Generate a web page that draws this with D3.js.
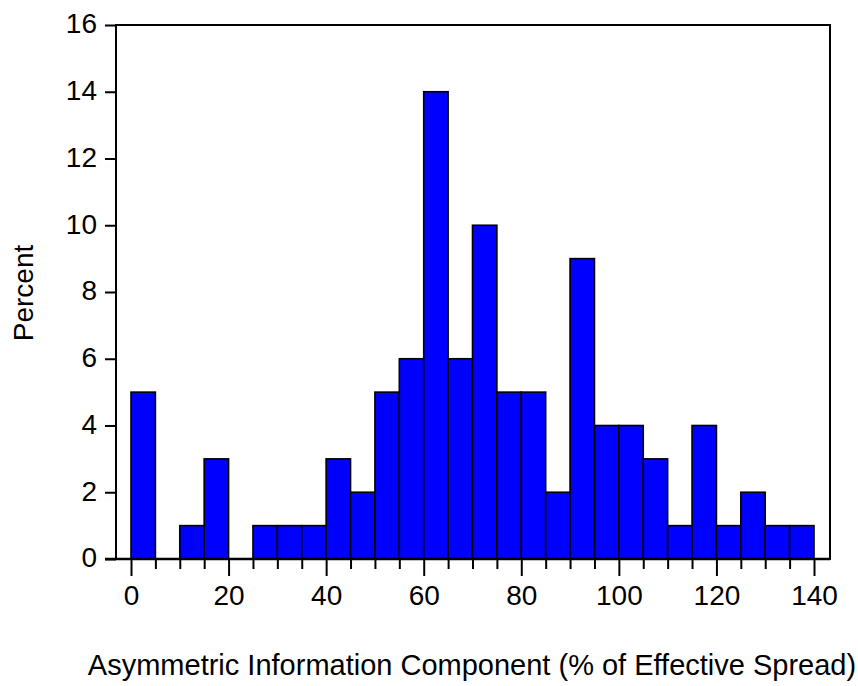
<!DOCTYPE html>
<html>
<head>
<meta charset="utf-8">
<script src="https://cdn.jsdelivr.net/npm/d3@7"></script>
<style>
  body { margin: 0; background: #fff; }
  text { font-family: "Liberation Sans", Arial, sans-serif; fill: #000; }
</style>
</head>
<body>
<div id="chart"></div>
<script>
// histogram bins (lower edge, width 5) and percent per bin
const binStarts = [0,5,10,15,20,25,30,35,40,45,50,55,60,65,70,75,80,85,90,95,100,105,110,115,120,125,130,135];
const percents = [5,0,1,3,0,1,1,1,3,2,5,6,14,6,10,5,5,2,9,4,4,3,1,4,1,2,1,1];
const xTicks = [0,20,40,60,80,100,120,140];
const yTicks = [0,2,4,6,8,10,12,14,16];
const binWidth = 5;

const width = 858, height = 686;
const frame = {left: 116, right: 830, top: 25, bottom: 559};

const svg = d3.select("#chart").append("svg")
    .attr("width", width)
    .attr("height", height);

const x = d3.scaleLinear().domain([0, 140]).range([131, 814]);
const y = d3.scaleLinear().domain([0, 16]).range([frame.bottom, frame.top]);

// bars
const data = binStarts.map((s, i) => ({x0: s, x1: s + binWidth, v: percents[i]}));
svg.selectAll(".bar")
    .data(data.filter(d => d.v > 0))
    .enter().append("rect")
    .attr("class", "bar")
    .attr("x", d => x(d.x0))
    .attr("y", d => y(d.v))
    .attr("width", d => x(d.x1) - x(d.x0))
    .attr("height", d => y(0) - y(d.v))
    .attr("fill", "#0000ff")
    .attr("stroke", "#000")
    .attr("stroke-width", 1.6);

// frame
svg.append("rect")
    .attr("x", frame.left)
    .attr("y", frame.top)
    .attr("width", frame.right - frame.left)
    .attr("height", frame.bottom - frame.top)
    .attr("fill", "none")
    .attr("stroke", "#000")
    .attr("stroke-width", 2);

svg.append("line")
    .attr("x1", frame.left - 11).attr("x2", frame.right)
    .attr("y1", frame.bottom).attr("y2", frame.bottom)
    .attr("stroke", "#000")
    .attr("stroke-width", 2.6);

// y axis
const yAxis = svg.append("g")
    .attr("transform", `translate(${frame.left},0)`)
    .call(d3.axisLeft(y).tickValues(yTicks).tickSize(11).tickPadding(8).tickFormat(d3.format("d")));
yAxis.select(".domain").remove();
yAxis.selectAll("line").attr("stroke-width", 2);
yAxis.selectAll("text")
    .style("font-size", "28px")
    .style("font-family", "Liberation Sans, Arial, sans-serif")
    .attr("dy", "0.28em");

// x axis: minor ticks every bin, longer ticks + labels every 20
const xAxis = svg.append("g")
    .attr("transform", `translate(0,${frame.bottom})`)
    .call(d3.axisBottom(x).tickValues(d3.range(0, 141, 5)).tickSize(10).tickPadding(16)
        .tickFormat(d => xTicks.includes(d) ? d : ""));
xAxis.select(".domain").remove();
xAxis.selectAll("line").attr("stroke-width", 2);
xAxis.selectAll(".tick").filter(d => xTicks.includes(d)).select("line").attr("y2", 17);
xAxis.selectAll("text")
    .attr("y", 26)
    .style("font-size", "28px")
    .style("font-family", "Liberation Sans, Arial, sans-serif");

// axis titles
svg.append("text")
    .attr("transform", `translate(33,${(frame.top + frame.bottom) / 2 + 1}) rotate(-90)`)
    .attr("text-anchor", "middle")
    .style("font-size", "28px")
    .text("Percent");

svg.append("text")
    .attr("x", 472)
    .attr("y", 675)
    .attr("text-anchor", "middle")
    .style("font-size", "29px")
    .text("Asymmetric Information Component (% of Effective Spread)");
</script>
</body>
</html>
